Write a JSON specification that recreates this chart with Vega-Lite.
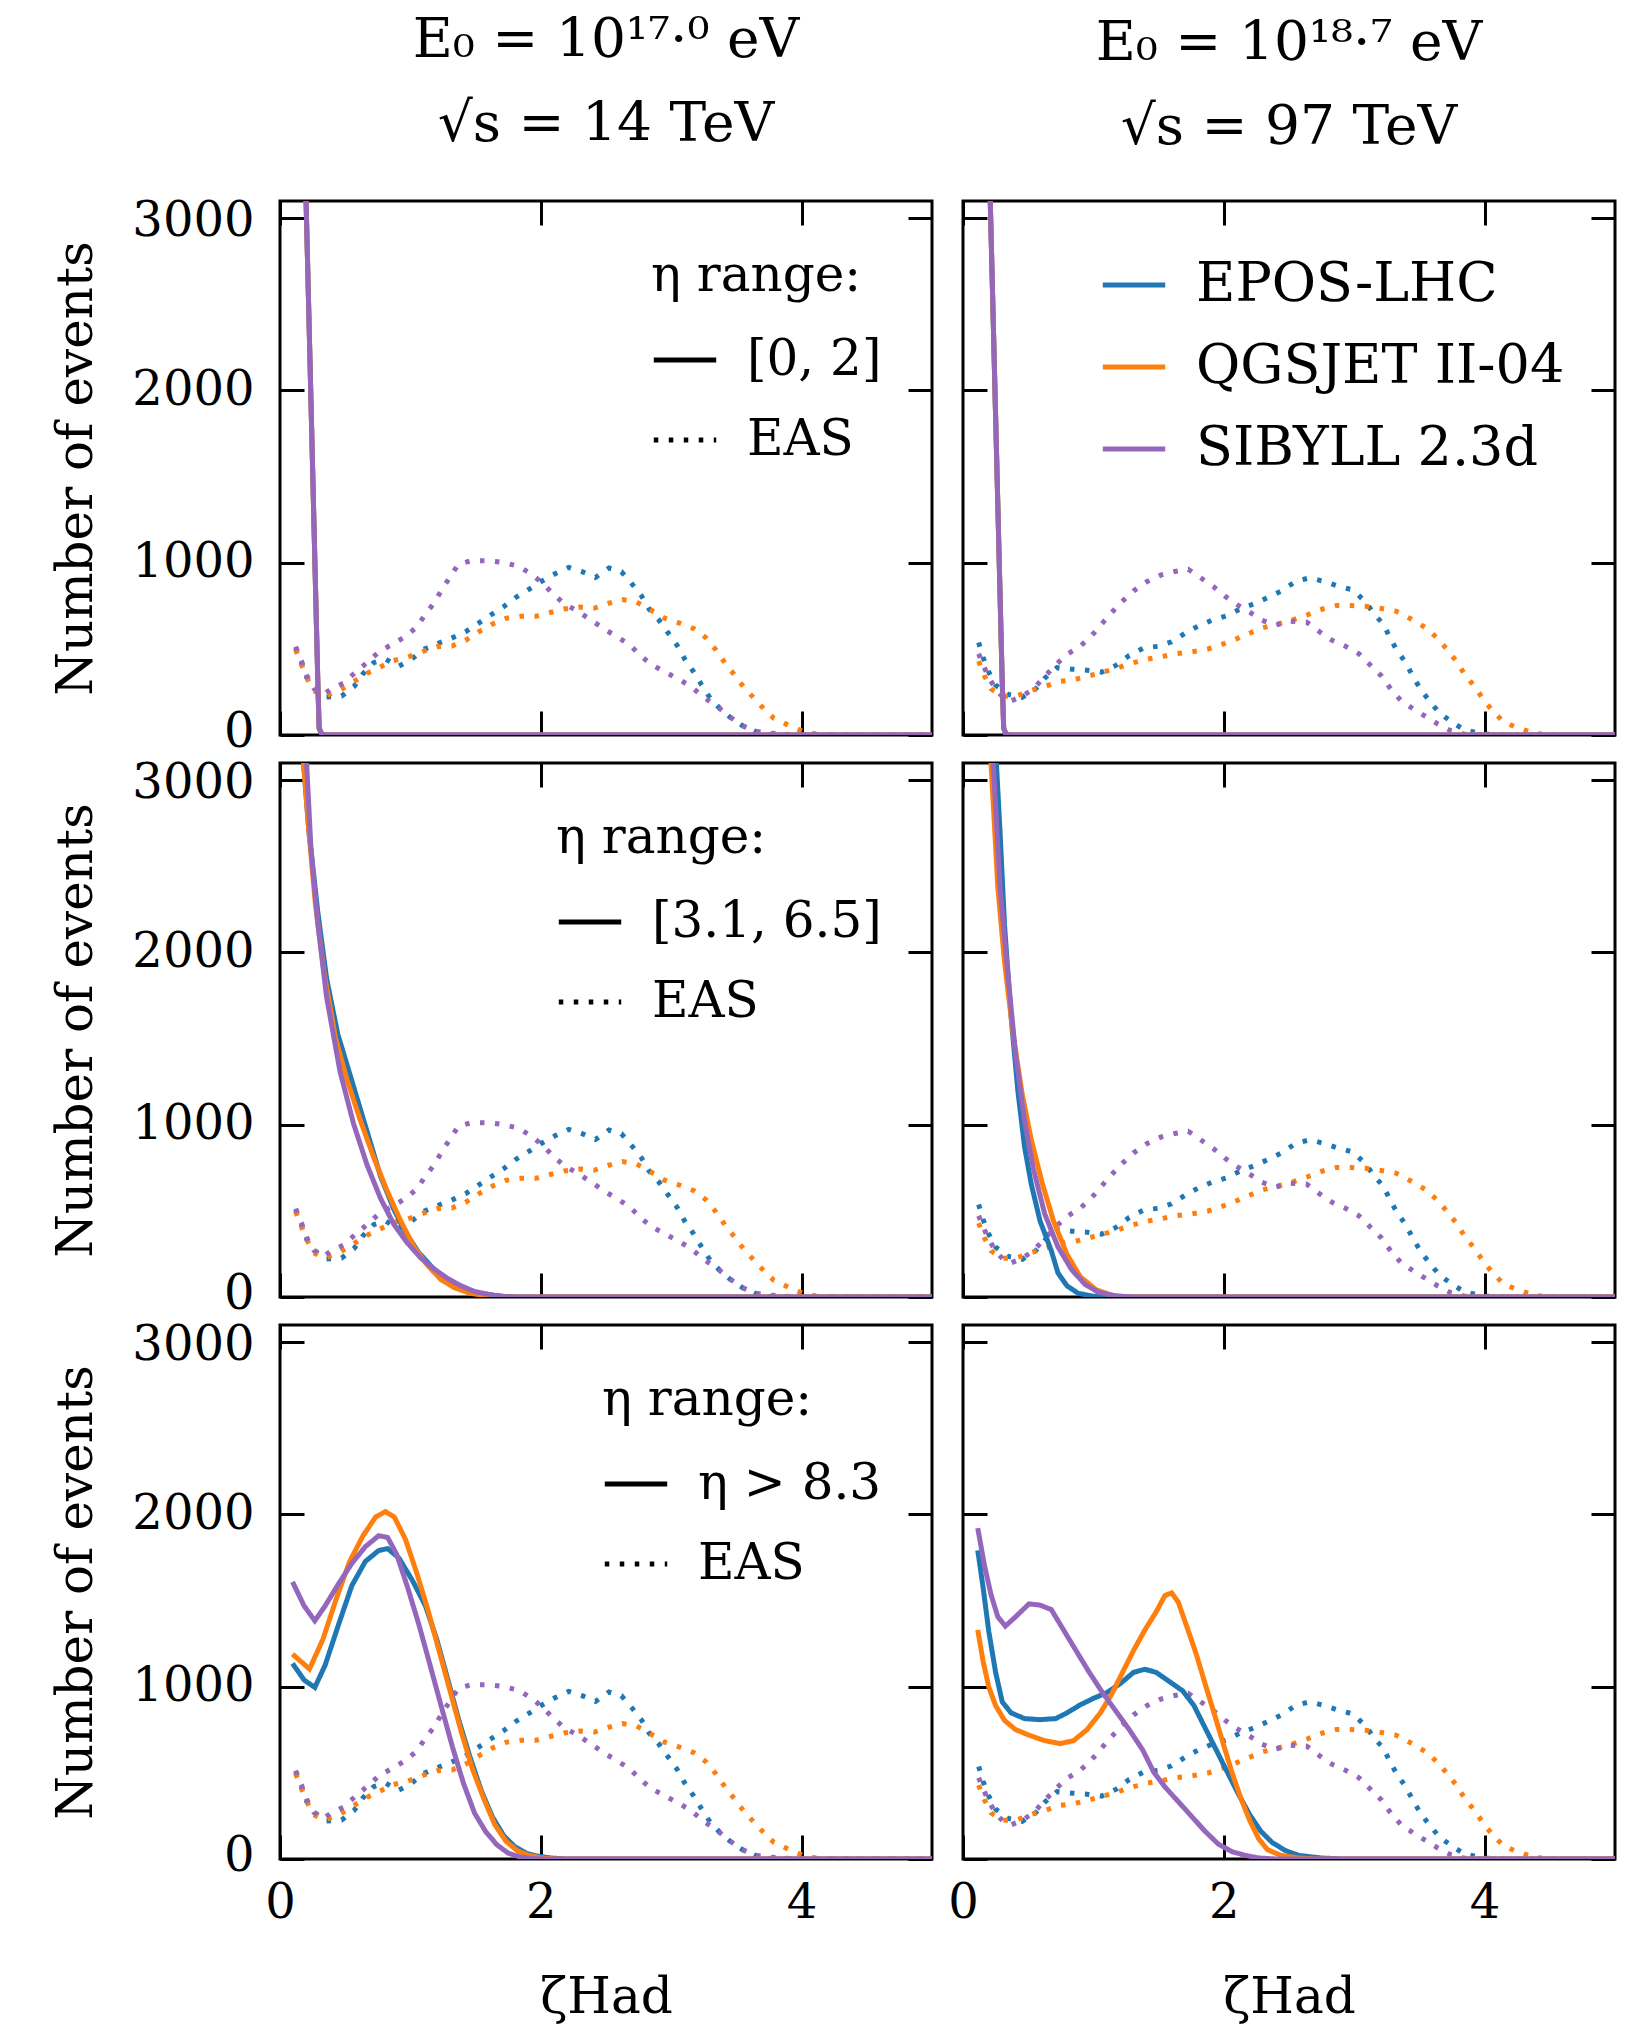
{
"$schema":"https://vega.github.io/schema/vega-lite/v6.json",
"background":"white",
"padding":{"left":50,"top":11,"right":20,"bottom":5},
"config":{
 "font":"DejaVu Serif",
 "numberFormat":"d",
 "view":{"stroke":"black","strokeWidth":3},
 "axis":{"grid":false,"domain":false,"ticks":true,"minExtent":0,"tickColor":"black","tickWidth":3,"tickSize":-24,"labelFontSize":48,"labelColor":"black","labelPadding":50,"labelFlush":false,"labelOverlap":false,"titleFontSize":50,"titleFontWeight":"normal","titleColor":"black"},
 "axisX":{"titlePadding":45,"labelPadding":44,"minExtent":0},
 "axisY":{"titlePadding":30,"minExtent":0},
 "legend":{"padding":0,"offset":50,"symbolType":"stroke","symbolStrokeWidth":5,"symbolSize":3900,"labelFontSize":50,"labelColor":"black","titleFontSize":50,"titleFontWeight":"normal","titleColor":"black","rowPadding":21,"titlePadding":25,"labelOffset":28,"labelLimit":700,"titleLimit":700},
 "title":{"fontSize":55,"fontWeight":"normal","color":"black","lineHeight":84,"offset":44,"anchor":"middle","frame":"group"},
 "line":{"strokeWidth":5,"clip":true}
},
"datasets":{
"eas":[
{"c":"L","m":"EPOS-LHC","x":0.12,"y":506},{"c":"L","m":"EPOS-LHC","x":0.164,"y":420},{"c":"L","m":"EPOS-LHC","x":0.205,"y":334},{"c":"L","m":"EPOS-LHC","x":0.267,"y":269},{"c":"L","m":"EPOS-LHC","x":0.352,"y":220},{"c":"L","m":"EPOS-LHC","x":0.472,"y":226},{"c":"L","m":"EPOS-LHC","x":0.567,"y":280},{"c":"L","m":"EPOS-LHC","x":0.636,"y":355},{"c":"L","m":"EPOS-LHC","x":0.718,"y":420},{"c":"L","m":"EPOS-LHC","x":0.807,"y":442},{"c":"L","m":"EPOS-LHC","x":0.906,"y":398},{"c":"L","m":"EPOS-LHC","x":1.001,"y":435},{"c":"L","m":"EPOS-LHC","x":1.097,"y":495},{"c":"L","m":"EPOS-LHC","x":1.2,"y":528},{"c":"L","m":"EPOS-LHC","x":1.309,"y":560},{"c":"L","m":"EPOS-LHC","x":1.422,"y":599},{"c":"L","m":"EPOS-LHC","x":1.517,"y":646},{"c":"L","m":"EPOS-LHC","x":1.61,"y":694},{"c":"L","m":"EPOS-LHC","x":1.712,"y":743},{"c":"L","m":"EPOS-LHC","x":1.805,"y":797},{"c":"L","m":"EPOS-LHC","x":1.897,"y":840},{"c":"L","m":"EPOS-LHC","x":2.01,"y":894},{"c":"L","m":"EPOS-LHC","x":2.112,"y":937},{"c":"L","m":"EPOS-LHC","x":2.215,"y":973},{"c":"L","m":"EPOS-LHC","x":2.317,"y":948},{"c":"L","m":"EPOS-LHC","x":2.42,"y":915},{"c":"L","m":"EPOS-LHC","x":2.522,"y":969},{"c":"L","m":"EPOS-LHC","x":2.618,"y":948},{"c":"L","m":"EPOS-LHC","x":2.693,"y":883},{"c":"L","m":"EPOS-LHC","x":2.772,"y":808},{"c":"L","m":"EPOS-LHC","x":2.83,"y":732},{"c":"L","m":"EPOS-LHC","x":2.905,"y":668},{"c":"L","m":"EPOS-LHC","x":2.977,"y":592},{"c":"L","m":"EPOS-LHC","x":3.045,"y":521},{"c":"L","m":"EPOS-LHC","x":3.103,"y":442},{"c":"L","m":"EPOS-LHC","x":3.172,"y":366},{"c":"L","m":"EPOS-LHC","x":3.233,"y":291},{"c":"L","m":"EPOS-LHC","x":3.298,"y":215},{"c":"L","m":"EPOS-LHC","x":3.377,"y":151},{"c":"L","m":"EPOS-LHC","x":3.462,"y":97},{"c":"L","m":"EPOS-LHC","x":3.547,"y":54},{"c":"L","m":"EPOS-LHC","x":3.643,"y":22},{"c":"L","m":"EPOS-LHC","x":3.75,"y":4},{"c":"L","m":"EPOS-LHC","x":3.9,"y":0},{"c":"L","m":"EPOS-LHC","x":5,"y":0},
{"c":"L","m":"QGSJET II-04","x":0.12,"y":495},{"c":"L","m":"QGSJET II-04","x":0.164,"y":409},{"c":"L","m":"QGSJET II-04","x":0.205,"y":334},{"c":"L","m":"QGSJET II-04","x":0.256,"y":258},{"c":"L","m":"QGSJET II-04","x":0.342,"y":226},{"c":"L","m":"QGSJET II-04","x":0.455,"y":258},{"c":"L","m":"QGSJET II-04","x":0.557,"y":306},{"c":"L","m":"QGSJET II-04","x":0.66,"y":355},{"c":"L","m":"QGSJET II-04","x":0.762,"y":392},{"c":"L","m":"QGSJET II-04","x":0.865,"y":431},{"c":"L","m":"QGSJET II-04","x":0.977,"y":452},{"c":"L","m":"QGSJET II-04","x":1.097,"y":485},{"c":"L","m":"QGSJET II-04","x":1.206,"y":513},{"c":"L","m":"QGSJET II-04","x":1.319,"y":517},{"c":"L","m":"QGSJET II-04","x":1.422,"y":549},{"c":"L","m":"QGSJET II-04","x":1.524,"y":599},{"c":"L","m":"QGSJET II-04","x":1.634,"y":646},{"c":"L","m":"QGSJET II-04","x":1.736,"y":678},{"c":"L","m":"QGSJET II-04","x":1.849,"y":689},{"c":"L","m":"QGSJET II-04","x":1.962,"y":689},{"c":"L","m":"QGSJET II-04","x":2.071,"y":711},{"c":"L","m":"QGSJET II-04","x":2.18,"y":732},{"c":"L","m":"QGSJET II-04","x":2.3,"y":743},{"c":"L","m":"QGSJET II-04","x":2.413,"y":737},{"c":"L","m":"QGSJET II-04","x":2.522,"y":765},{"c":"L","m":"QGSJET II-04","x":2.625,"y":786},{"c":"L","m":"QGSJET II-04","x":2.727,"y":775},{"c":"L","m":"QGSJET II-04","x":2.83,"y":732},{"c":"L","m":"QGSJET II-04","x":2.949,"y":678},{"c":"L","m":"QGSJET II-04","x":3.062,"y":650},{"c":"L","m":"QGSJET II-04","x":3.172,"y":618},{"c":"L","m":"QGSJET II-04","x":3.267,"y":564},{"c":"L","m":"QGSJET II-04","x":3.342,"y":495},{"c":"L","m":"QGSJET II-04","x":3.411,"y":420},{"c":"L","m":"QGSJET II-04","x":3.479,"y":355},{"c":"L","m":"QGSJET II-04","x":3.554,"y":280},{"c":"L","m":"QGSJET II-04","x":3.633,"y":215},{"c":"L","m":"QGSJET II-04","x":3.712,"y":151},{"c":"L","m":"QGSJET II-04","x":3.787,"y":97},{"c":"L","m":"QGSJET II-04","x":3.906,"y":54},{"c":"L","m":"QGSJET II-04","x":4.009,"y":22},{"c":"L","m":"QGSJET II-04","x":4.111,"y":6},{"c":"L","m":"QGSJET II-04","x":4.23,"y":0},{"c":"L","m":"QGSJET II-04","x":5,"y":0},
{"c":"L","m":"SIBYLL 2.3d","x":0.12,"y":513},{"c":"L","m":"SIBYLL 2.3d","x":0.164,"y":431},{"c":"L","m":"SIBYLL 2.3d","x":0.205,"y":345},{"c":"L","m":"SIBYLL 2.3d","x":0.26,"y":270},{"c":"L","m":"SIBYLL 2.3d","x":0.335,"y":237},{"c":"L","m":"SIBYLL 2.3d","x":0.396,"y":269},{"c":"L","m":"SIBYLL 2.3d","x":0.489,"y":302},{"c":"L","m":"SIBYLL 2.3d","x":0.581,"y":366},{"c":"L","m":"SIBYLL 2.3d","x":0.684,"y":431},{"c":"L","m":"SIBYLL 2.3d","x":0.762,"y":485},{"c":"L","m":"SIBYLL 2.3d","x":0.865,"y":528},{"c":"L","m":"SIBYLL 2.3d","x":0.96,"y":571},{"c":"L","m":"SIBYLL 2.3d","x":1.046,"y":625},{"c":"L","m":"SIBYLL 2.3d","x":1.114,"y":700},{"c":"L","m":"SIBYLL 2.3d","x":1.18,"y":765},{"c":"L","m":"SIBYLL 2.3d","x":1.247,"y":851},{"c":"L","m":"SIBYLL 2.3d","x":1.312,"y":926},{"c":"L","m":"SIBYLL 2.3d","x":1.367,"y":991},{"c":"L","m":"SIBYLL 2.3d","x":1.47,"y":1012},{"c":"L","m":"SIBYLL 2.3d","x":1.6,"y":1012},{"c":"L","m":"SIBYLL 2.3d","x":1.709,"y":1002},{"c":"L","m":"SIBYLL 2.3d","x":1.825,"y":980},{"c":"L","m":"SIBYLL 2.3d","x":1.924,"y":937},{"c":"L","m":"SIBYLL 2.3d","x":2.01,"y":883},{"c":"L","m":"SIBYLL 2.3d","x":2.088,"y":823},{"c":"L","m":"SIBYLL 2.3d","x":2.174,"y":765},{"c":"L","m":"SIBYLL 2.3d","x":2.29,"y":715},{"c":"L","m":"SIBYLL 2.3d","x":2.385,"y":668},{"c":"L","m":"SIBYLL 2.3d","x":2.488,"y":614},{"c":"L","m":"SIBYLL 2.3d","x":2.584,"y":571},{"c":"L","m":"SIBYLL 2.3d","x":2.686,"y":521},{"c":"L","m":"SIBYLL 2.3d","x":2.761,"y":463},{"c":"L","m":"SIBYLL 2.3d","x":2.847,"y":409},{"c":"L","m":"SIBYLL 2.3d","x":2.953,"y":366},{"c":"L","m":"SIBYLL 2.3d","x":3.059,"y":323},{"c":"L","m":"SIBYLL 2.3d","x":3.154,"y":280},{"c":"L","m":"SIBYLL 2.3d","x":3.247,"y":220},{"c":"L","m":"SIBYLL 2.3d","x":3.349,"y":168},{"c":"L","m":"SIBYLL 2.3d","x":3.445,"y":108},{"c":"L","m":"SIBYLL 2.3d","x":3.547,"y":54},{"c":"L","m":"SIBYLL 2.3d","x":3.643,"y":22},{"c":"L","m":"SIBYLL 2.3d","x":3.75,"y":11},{"c":"L","m":"SIBYLL 2.3d","x":3.87,"y":4},{"c":"L","m":"SIBYLL 2.3d","x":4.0,"y":0},{"c":"L","m":"SIBYLL 2.3d","x":5,"y":0},
{"c":"R","m":"EPOS-LHC","x":0.12,"y":537},{"c":"R","m":"EPOS-LHC","x":0.154,"y":451},{"c":"R","m":"EPOS-LHC","x":0.198,"y":365},{"c":"R","m":"EPOS-LHC","x":0.25,"y":290},{"c":"R","m":"EPOS-LHC","x":0.345,"y":236},{"c":"R","m":"EPOS-LHC","x":0.455,"y":219},{"c":"R","m":"EPOS-LHC","x":0.557,"y":268},{"c":"R","m":"EPOS-LHC","x":0.632,"y":333},{"c":"R","m":"EPOS-LHC","x":0.721,"y":391},{"c":"R","m":"EPOS-LHC","x":0.838,"y":382},{"c":"R","m":"EPOS-LHC","x":0.95,"y":376},{"c":"R","m":"EPOS-LHC","x":1.063,"y":365},{"c":"R","m":"EPOS-LHC","x":1.173,"y":404},{"c":"R","m":"EPOS-LHC","x":1.275,"y":462},{"c":"R","m":"EPOS-LHC","x":1.385,"y":505},{"c":"R","m":"EPOS-LHC","x":1.497,"y":515},{"c":"R","m":"EPOS-LHC","x":1.6,"y":541},{"c":"R","m":"EPOS-LHC","x":1.703,"y":591},{"c":"R","m":"EPOS-LHC","x":1.805,"y":633},{"c":"R","m":"EPOS-LHC","x":1.908,"y":666},{"c":"R","m":"EPOS-LHC","x":2.017,"y":691},{"c":"R","m":"EPOS-LHC","x":2.123,"y":730},{"c":"R","m":"EPOS-LHC","x":2.232,"y":762},{"c":"R","m":"EPOS-LHC","x":2.342,"y":799},{"c":"R","m":"EPOS-LHC","x":2.444,"y":837},{"c":"R","m":"EPOS-LHC","x":2.55,"y":891},{"c":"R","m":"EPOS-LHC","x":2.66,"y":913},{"c":"R","m":"EPOS-LHC","x":2.769,"y":891},{"c":"R","m":"EPOS-LHC","x":2.882,"y":863},{"c":"R","m":"EPOS-LHC","x":2.991,"y":842},{"c":"R","m":"EPOS-LHC","x":3.087,"y":773},{"c":"R","m":"EPOS-LHC","x":3.156,"y":698},{"c":"R","m":"EPOS-LHC","x":3.224,"y":644},{"c":"R","m":"EPOS-LHC","x":3.275,"y":563},{"c":"R","m":"EPOS-LHC","x":3.326,"y":494},{"c":"R","m":"EPOS-LHC","x":3.395,"y":419},{"c":"R","m":"EPOS-LHC","x":3.456,"y":333},{"c":"R","m":"EPOS-LHC","x":3.515,"y":258},{"c":"R","m":"EPOS-LHC","x":3.583,"y":193},{"c":"R","m":"EPOS-LHC","x":3.651,"y":129},{"c":"R","m":"EPOS-LHC","x":3.737,"y":82},{"c":"R","m":"EPOS-LHC","x":3.839,"y":32},{"c":"R","m":"EPOS-LHC","x":3.976,"y":6},{"c":"R","m":"EPOS-LHC","x":4.147,"y":0},{"c":"R","m":"EPOS-LHC","x":5,"y":0},
{"c":"R","m":"QGSJET II-04","x":0.12,"y":429},{"c":"R","m":"QGSJET II-04","x":0.164,"y":344},{"c":"R","m":"QGSJET II-04","x":0.215,"y":268},{"c":"R","m":"QGSJET II-04","x":0.301,"y":225},{"c":"R","m":"QGSJET II-04","x":0.403,"y":225},{"c":"R","m":"QGSJET II-04","x":0.523,"y":258},{"c":"R","m":"QGSJET II-04","x":0.632,"y":283},{"c":"R","m":"QGSJET II-04","x":0.745,"y":311},{"c":"R","m":"QGSJET II-04","x":0.858,"y":322},{"c":"R","m":"QGSJET II-04","x":0.968,"y":344},{"c":"R","m":"QGSJET II-04","x":1.077,"y":365},{"c":"R","m":"QGSJET II-04","x":1.19,"y":391},{"c":"R","m":"QGSJET II-04","x":1.303,"y":419},{"c":"R","m":"QGSJET II-04","x":1.412,"y":440},{"c":"R","m":"QGSJET II-04","x":1.521,"y":455},{"c":"R","m":"QGSJET II-04","x":1.634,"y":472},{"c":"R","m":"QGSJET II-04","x":1.754,"y":483},{"c":"R","m":"QGSJET II-04","x":1.874,"y":498},{"c":"R","m":"QGSJET II-04","x":1.986,"y":526},{"c":"R","m":"QGSJET II-04","x":2.096,"y":558},{"c":"R","m":"QGSJET II-04","x":2.198,"y":591},{"c":"R","m":"QGSJET II-04","x":2.301,"y":623},{"c":"R","m":"QGSJET II-04","x":2.41,"y":644},{"c":"R","m":"QGSJET II-04","x":2.523,"y":666},{"c":"R","m":"QGSJET II-04","x":2.643,"y":698},{"c":"R","m":"QGSJET II-04","x":2.752,"y":730},{"c":"R","m":"QGSJET II-04","x":2.865,"y":752},{"c":"R","m":"QGSJET II-04","x":2.978,"y":752},{"c":"R","m":"QGSJET II-04","x":3.087,"y":747},{"c":"R","m":"QGSJET II-04","x":3.207,"y":734},{"c":"R","m":"QGSJET II-04","x":3.32,"y":719},{"c":"R","m":"QGSJET II-04","x":3.429,"y":676},{"c":"R","m":"QGSJET II-04","x":3.549,"y":623},{"c":"R","m":"QGSJET II-04","x":3.627,"y":569},{"c":"R","m":"QGSJET II-04","x":3.703,"y":505},{"c":"R","m":"QGSJET II-04","x":3.778,"y":434},{"c":"R","m":"QGSJET II-04","x":3.846,"y":354},{"c":"R","m":"QGSJET II-04","x":3.925,"y":279},{"c":"R","m":"QGSJET II-04","x":3.993,"y":204},{"c":"R","m":"QGSJET II-04","x":4.062,"y":140},{"c":"R","m":"QGSJET II-04","x":4.147,"y":75},{"c":"R","m":"QGSJET II-04","x":4.25,"y":43},{"c":"R","m":"QGSJET II-04","x":4.352,"y":17},{"c":"R","m":"QGSJET II-04","x":4.472,"y":0},{"c":"R","m":"QGSJET II-04","x":5,"y":0},
{"c":"R","m":"SIBYLL 2.3d","x":0.12,"y":472},{"c":"R","m":"SIBYLL 2.3d","x":0.154,"y":408},{"c":"R","m":"SIBYLL 2.3d","x":0.198,"y":333},{"c":"R","m":"SIBYLL 2.3d","x":0.25,"y":268},{"c":"R","m":"SIBYLL 2.3d","x":0.311,"y":215},{"c":"R","m":"SIBYLL 2.3d","x":0.369,"y":198},{"c":"R","m":"SIBYLL 2.3d","x":0.455,"y":225},{"c":"R","m":"SIBYLL 2.3d","x":0.54,"y":268},{"c":"R","m":"SIBYLL 2.3d","x":0.632,"y":344},{"c":"R","m":"SIBYLL 2.3d","x":0.711,"y":408},{"c":"R","m":"SIBYLL 2.3d","x":0.807,"y":472},{"c":"R","m":"SIBYLL 2.3d","x":0.899,"y":515},{"c":"R","m":"SIBYLL 2.3d","x":0.985,"y":575},{"c":"R","m":"SIBYLL 2.3d","x":1.063,"y":644},{"c":"R","m":"SIBYLL 2.3d","x":1.138,"y":709},{"c":"R","m":"SIBYLL 2.3d","x":1.217,"y":773},{"c":"R","m":"SIBYLL 2.3d","x":1.309,"y":837},{"c":"R","m":"SIBYLL 2.3d","x":1.412,"y":891},{"c":"R","m":"SIBYLL 2.3d","x":1.515,"y":928},{"c":"R","m":"SIBYLL 2.3d","x":1.624,"y":949},{"c":"R","m":"SIBYLL 2.3d","x":1.727,"y":962},{"c":"R","m":"SIBYLL 2.3d","x":1.822,"y":913},{"c":"R","m":"SIBYLL 2.3d","x":1.918,"y":863},{"c":"R","m":"SIBYLL 2.3d","x":2.01,"y":805},{"c":"R","m":"SIBYLL 2.3d","x":2.103,"y":756},{"c":"R","m":"SIBYLL 2.3d","x":2.198,"y":713},{"c":"R","m":"SIBYLL 2.3d","x":2.294,"y":666},{"c":"R","m":"SIBYLL 2.3d","x":2.397,"y":638},{"c":"R","m":"SIBYLL 2.3d","x":2.513,"y":661},{"c":"R","m":"SIBYLL 2.3d","x":2.636,"y":655},{"c":"R","m":"SIBYLL 2.3d","x":2.738,"y":597},{"c":"R","m":"SIBYLL 2.3d","x":2.834,"y":548},{"c":"R","m":"SIBYLL 2.3d","x":2.933,"y":515},{"c":"R","m":"SIBYLL 2.3d","x":3.036,"y":472},{"c":"R","m":"SIBYLL 2.3d","x":3.121,"y":408},{"c":"R","m":"SIBYLL 2.3d","x":3.207,"y":344},{"c":"R","m":"SIBYLL 2.3d","x":3.285,"y":262},{"c":"R","m":"SIBYLL 2.3d","x":3.361,"y":198},{"c":"R","m":"SIBYLL 2.3d","x":3.456,"y":150},{"c":"R","m":"SIBYLL 2.3d","x":3.549,"y":107},{"c":"R","m":"SIBYLL 2.3d","x":3.641,"y":64},{"c":"R","m":"SIBYLL 2.3d","x":3.737,"y":26},{"c":"R","m":"SIBYLL 2.3d","x":3.839,"y":6},{"c":"R","m":"SIBYLL 2.3d","x":3.942,"y":0},{"c":"R","m":"SIBYLL 2.3d","x":5,"y":0}
],
"solid":[
{"c":"L","r":1,"m":"EPOS-LHC","x":0.1,"y":6200},{"c":"L","r":1,"m":"EPOS-LHC","x":0.15,"y":4650},{"c":"L","r":1,"m":"EPOS-LHC","x":0.2,"y":3100},{"c":"L","r":1,"m":"EPOS-LHC","x":0.25,"y":1550},{"c":"L","r":1,"m":"EPOS-LHC","x":0.29,"y":310},{"c":"L","r":1,"m":"EPOS-LHC","x":0.3,"y":40},{"c":"L","r":1,"m":"EPOS-LHC","x":0.32,"y":5},{"c":"L","r":1,"m":"EPOS-LHC","x":0.36,"y":0},{"c":"L","r":1,"m":"EPOS-LHC","x":5,"y":0},
{"c":"L","r":1,"m":"QGSJET II-04","x":0.1,"y":6200},{"c":"L","r":1,"m":"QGSJET II-04","x":0.15,"y":4650},{"c":"L","r":1,"m":"QGSJET II-04","x":0.2,"y":3100},{"c":"L","r":1,"m":"QGSJET II-04","x":0.25,"y":1550},{"c":"L","r":1,"m":"QGSJET II-04","x":0.29,"y":310},{"c":"L","r":1,"m":"QGSJET II-04","x":0.3,"y":40},{"c":"L","r":1,"m":"QGSJET II-04","x":0.32,"y":5},{"c":"L","r":1,"m":"QGSJET II-04","x":0.36,"y":0},{"c":"L","r":1,"m":"QGSJET II-04","x":5,"y":0},
{"c":"L","r":1,"m":"SIBYLL 2.3d","x":0.1,"y":6200},{"c":"L","r":1,"m":"SIBYLL 2.3d","x":0.15,"y":4650},{"c":"L","r":1,"m":"SIBYLL 2.3d","x":0.2,"y":3100},{"c":"L","r":1,"m":"SIBYLL 2.3d","x":0.25,"y":1550},{"c":"L","r":1,"m":"SIBYLL 2.3d","x":0.29,"y":310},{"c":"L","r":1,"m":"SIBYLL 2.3d","x":0.3,"y":40},{"c":"L","r":1,"m":"SIBYLL 2.3d","x":0.32,"y":5},{"c":"L","r":1,"m":"SIBYLL 2.3d","x":0.36,"y":0},{"c":"L","r":1,"m":"SIBYLL 2.3d","x":5,"y":0},
{"c":"R","r":1,"m":"EPOS-LHC","x":0.1,"y":6500},{"c":"R","r":1,"m":"EPOS-LHC","x":0.15,"y":4900},{"c":"R","r":1,"m":"EPOS-LHC","x":0.209,"y":3100},{"c":"R","r":1,"m":"EPOS-LHC","x":0.26,"y":1550},{"c":"R","r":1,"m":"EPOS-LHC","x":0.3,"y":330},{"c":"R","r":1,"m":"EPOS-LHC","x":0.312,"y":40},{"c":"R","r":1,"m":"EPOS-LHC","x":0.33,"y":5},{"c":"R","r":1,"m":"EPOS-LHC","x":0.37,"y":0},{"c":"R","r":1,"m":"EPOS-LHC","x":5,"y":0},
{"c":"R","r":1,"m":"QGSJET II-04","x":0.1,"y":6500},{"c":"R","r":1,"m":"QGSJET II-04","x":0.15,"y":4900},{"c":"R","r":1,"m":"QGSJET II-04","x":0.209,"y":3100},{"c":"R","r":1,"m":"QGSJET II-04","x":0.26,"y":1550},{"c":"R","r":1,"m":"QGSJET II-04","x":0.3,"y":330},{"c":"R","r":1,"m":"QGSJET II-04","x":0.312,"y":40},{"c":"R","r":1,"m":"QGSJET II-04","x":0.33,"y":5},{"c":"R","r":1,"m":"QGSJET II-04","x":0.37,"y":0},{"c":"R","r":1,"m":"QGSJET II-04","x":5,"y":0},
{"c":"R","r":1,"m":"SIBYLL 2.3d","x":0.1,"y":6500},{"c":"R","r":1,"m":"SIBYLL 2.3d","x":0.15,"y":4900},{"c":"R","r":1,"m":"SIBYLL 2.3d","x":0.209,"y":3100},{"c":"R","r":1,"m":"SIBYLL 2.3d","x":0.26,"y":1550},{"c":"R","r":1,"m":"SIBYLL 2.3d","x":0.3,"y":330},{"c":"R","r":1,"m":"SIBYLL 2.3d","x":0.312,"y":40},{"c":"R","r":1,"m":"SIBYLL 2.3d","x":0.33,"y":5},{"c":"R","r":1,"m":"SIBYLL 2.3d","x":0.37,"y":0},{"c":"R","r":1,"m":"SIBYLL 2.3d","x":5,"y":0},
{"c":"L","r":2,"m":"EPOS-LHC","x":0.1,"y":4500},{"c":"L","r":2,"m":"EPOS-LHC","x":0.14,"y":3700},{"c":"L","r":2,"m":"EPOS-LHC","x":0.179,"y":3117},{"c":"L","r":2,"m":"EPOS-LHC","x":0.22,"y":2716},{"c":"L","r":2,"m":"EPOS-LHC","x":0.289,"y":2240},{"c":"L","r":2,"m":"EPOS-LHC","x":0.357,"y":1851},{"c":"L","r":2,"m":"EPOS-LHC","x":0.443,"y":1526},{"c":"L","r":2,"m":"EPOS-LHC","x":0.512,"y":1353},{"c":"L","r":2,"m":"EPOS-LHC","x":0.598,"y":1136},{"c":"L","r":2,"m":"EPOS-LHC","x":0.684,"y":920},{"c":"L","r":2,"m":"EPOS-LHC","x":0.77,"y":703},{"c":"L","r":2,"m":"EPOS-LHC","x":0.873,"y":509},{"c":"L","r":2,"m":"EPOS-LHC","x":0.959,"y":379},{"c":"L","r":2,"m":"EPOS-LHC","x":1.062,"y":260},{"c":"L","r":2,"m":"EPOS-LHC","x":1.165,"y":173},{"c":"L","r":2,"m":"EPOS-LHC","x":1.268,"y":108},{"c":"L","r":2,"m":"EPOS-LHC","x":1.388,"y":54},{"c":"L","r":2,"m":"EPOS-LHC","x":1.526,"y":22},{"c":"L","r":2,"m":"EPOS-LHC","x":1.698,"y":4},{"c":"L","r":2,"m":"EPOS-LHC","x":1.85,"y":0},{"c":"L","r":2,"m":"EPOS-LHC","x":5,"y":0},
{"c":"L","r":2,"m":"QGSJET II-04","x":0.1,"y":4500},{"c":"L","r":2,"m":"QGSJET II-04","x":0.14,"y":3700},{"c":"L","r":2,"m":"QGSJET II-04","x":0.179,"y":3117},{"c":"L","r":2,"m":"QGSJET II-04","x":0.22,"y":2716},{"c":"L","r":2,"m":"QGSJET II-04","x":0.271,"y":2284},{"c":"L","r":2,"m":"QGSJET II-04","x":0.34,"y":1872},{"c":"L","r":2,"m":"QGSJET II-04","x":0.426,"y":1504},{"c":"L","r":2,"m":"QGSJET II-04","x":0.512,"y":1266},{"c":"L","r":2,"m":"QGSJET II-04","x":0.615,"y":1028},{"c":"L","r":2,"m":"QGSJET II-04","x":0.718,"y":812},{"c":"L","r":2,"m":"QGSJET II-04","x":0.821,"y":617},{"c":"L","r":2,"m":"QGSJET II-04","x":0.924,"y":444},{"c":"L","r":2,"m":"QGSJET II-04","x":1.027,"y":292},{"c":"L","r":2,"m":"QGSJET II-04","x":1.131,"y":184},{"c":"L","r":2,"m":"QGSJET II-04","x":1.234,"y":102},{"c":"L","r":2,"m":"QGSJET II-04","x":1.337,"y":54},{"c":"L","r":2,"m":"QGSJET II-04","x":1.457,"y":22},{"c":"L","r":2,"m":"QGSJET II-04","x":1.595,"y":6},{"c":"L","r":2,"m":"QGSJET II-04","x":1.732,"y":0},{"c":"L","r":2,"m":"QGSJET II-04","x":5,"y":0},
{"c":"L","r":2,"m":"SIBYLL 2.3d","x":0.1,"y":4800},{"c":"L","r":2,"m":"SIBYLL 2.3d","x":0.15,"y":3900},{"c":"L","r":2,"m":"SIBYLL 2.3d","x":0.203,"y":3117},{"c":"L","r":2,"m":"SIBYLL 2.3d","x":0.237,"y":2608},{"c":"L","r":2,"m":"SIBYLL 2.3d","x":0.289,"y":2175},{"c":"L","r":2,"m":"SIBYLL 2.3d","x":0.357,"y":1742},{"c":"L","r":2,"m":"SIBYLL 2.3d","x":0.46,"y":1310},{"c":"L","r":2,"m":"SIBYLL 2.3d","x":0.564,"y":1006},{"c":"L","r":2,"m":"SIBYLL 2.3d","x":0.667,"y":768},{"c":"L","r":2,"m":"SIBYLL 2.3d","x":0.77,"y":574},{"c":"L","r":2,"m":"SIBYLL 2.3d","x":0.873,"y":422},{"c":"L","r":2,"m":"SIBYLL 2.3d","x":0.976,"y":314},{"c":"L","r":2,"m":"SIBYLL 2.3d","x":1.079,"y":227},{"c":"L","r":2,"m":"SIBYLL 2.3d","x":1.182,"y":162},{"c":"L","r":2,"m":"SIBYLL 2.3d","x":1.285,"y":108},{"c":"L","r":2,"m":"SIBYLL 2.3d","x":1.388,"y":65},{"c":"L","r":2,"m":"SIBYLL 2.3d","x":1.491,"y":32},{"c":"L","r":2,"m":"SIBYLL 2.3d","x":1.629,"y":11},{"c":"L","r":2,"m":"SIBYLL 2.3d","x":1.76,"y":0},{"c":"L","r":2,"m":"SIBYLL 2.3d","x":5,"y":0},
{"c":"R","r":2,"m":"EPOS-LHC","x":0.1,"y":6500},{"c":"R","r":2,"m":"EPOS-LHC","x":0.2,"y":4300},{"c":"R","r":2,"m":"EPOS-LHC","x":0.256,"y":3100},{"c":"R","r":2,"m":"EPOS-LHC","x":0.284,"y":2701},{"c":"R","r":2,"m":"EPOS-LHC","x":0.318,"y":2164},{"c":"R","r":2,"m":"EPOS-LHC","x":0.369,"y":1625},{"c":"R","r":2,"m":"EPOS-LHC","x":0.421,"y":1195},{"c":"R","r":2,"m":"EPOS-LHC","x":0.472,"y":872},{"c":"R","r":2,"m":"EPOS-LHC","x":0.523,"y":657},{"c":"R","r":2,"m":"EPOS-LHC","x":0.591,"y":441},{"c":"R","r":2,"m":"EPOS-LHC","x":0.677,"y":269},{"c":"R","r":2,"m":"EPOS-LHC","x":0.728,"y":140},{"c":"R","r":2,"m":"EPOS-LHC","x":0.797,"y":65},{"c":"R","r":2,"m":"EPOS-LHC","x":0.882,"y":22},{"c":"R","r":2,"m":"EPOS-LHC","x":1.0,"y":4},{"c":"R","r":2,"m":"EPOS-LHC","x":1.1,"y":0},{"c":"R","r":2,"m":"EPOS-LHC","x":5,"y":0},
{"c":"R","r":2,"m":"QGSJET II-04","x":0.1,"y":5500},{"c":"R","r":2,"m":"QGSJET II-04","x":0.16,"y":4300},{"c":"R","r":2,"m":"QGSJET II-04","x":0.215,"y":3100},{"c":"R","r":2,"m":"QGSJET II-04","x":0.267,"y":2379},{"c":"R","r":2,"m":"QGSJET II-04","x":0.318,"y":1948},{"c":"R","r":2,"m":"QGSJET II-04","x":0.386,"y":1518},{"c":"R","r":2,"m":"QGSJET II-04","x":0.455,"y":1173},{"c":"R","r":2,"m":"QGSJET II-04","x":0.523,"y":915},{"c":"R","r":2,"m":"QGSJET II-04","x":0.609,"y":657},{"c":"R","r":2,"m":"QGSJET II-04","x":0.694,"y":441},{"c":"R","r":2,"m":"QGSJET II-04","x":0.797,"y":248},{"c":"R","r":2,"m":"QGSJET II-04","x":0.899,"y":118},{"c":"R","r":2,"m":"QGSJET II-04","x":1.019,"y":43},{"c":"R","r":2,"m":"QGSJET II-04","x":1.138,"y":11},{"c":"R","r":2,"m":"QGSJET II-04","x":1.25,"y":0},{"c":"R","r":2,"m":"QGSJET II-04","x":5,"y":0},
{"c":"R","r":2,"m":"SIBYLL 2.3d","x":0.1,"y":5800},{"c":"R","r":2,"m":"SIBYLL 2.3d","x":0.17,"y":4300},{"c":"R","r":2,"m":"SIBYLL 2.3d","x":0.232,"y":3100},{"c":"R","r":2,"m":"SIBYLL 2.3d","x":0.284,"y":2379},{"c":"R","r":2,"m":"SIBYLL 2.3d","x":0.335,"y":1948},{"c":"R","r":2,"m":"SIBYLL 2.3d","x":0.403,"y":1410},{"c":"R","r":2,"m":"SIBYLL 2.3d","x":0.472,"y":1023},{"c":"R","r":2,"m":"SIBYLL 2.3d","x":0.54,"y":743},{"c":"R","r":2,"m":"SIBYLL 2.3d","x":0.626,"y":484},{"c":"R","r":2,"m":"SIBYLL 2.3d","x":0.728,"y":291},{"c":"R","r":2,"m":"SIBYLL 2.3d","x":0.831,"y":161},{"c":"R","r":2,"m":"SIBYLL 2.3d","x":0.933,"y":75},{"c":"R","r":2,"m":"SIBYLL 2.3d","x":1.036,"y":28},{"c":"R","r":2,"m":"SIBYLL 2.3d","x":1.173,"y":6},{"c":"R","r":2,"m":"SIBYLL 2.3d","x":1.3,"y":0},{"c":"R","r":2,"m":"SIBYLL 2.3d","x":5,"y":0},
{"c":"L","r":3,"m":"EPOS-LHC","x":0.096,"y":1135},{"c":"L","r":3,"m":"EPOS-LHC","x":0.185,"y":1039},{"c":"L","r":3,"m":"EPOS-LHC","x":0.267,"y":996},{"c":"L","r":3,"m":"EPOS-LHC","x":0.346,"y":1125},{"c":"L","r":3,"m":"EPOS-LHC","x":0.449,"y":1361},{"c":"L","r":3,"m":"EPOS-LHC","x":0.551,"y":1587},{"c":"L","r":3,"m":"EPOS-LHC","x":0.654,"y":1727},{"c":"L","r":3,"m":"EPOS-LHC","x":0.757,"y":1791},{"c":"L","r":3,"m":"EPOS-LHC","x":0.825,"y":1802},{"c":"L","r":3,"m":"EPOS-LHC","x":0.911,"y":1748},{"c":"L","r":3,"m":"EPOS-LHC","x":1.014,"y":1619},{"c":"L","r":3,"m":"EPOS-LHC","x":1.116,"y":1469},{"c":"L","r":3,"m":"EPOS-LHC","x":1.202,"y":1275},{"c":"L","r":3,"m":"EPOS-LHC","x":1.288,"y":1039},{"c":"L","r":3,"m":"EPOS-LHC","x":1.373,"y":802},{"c":"L","r":3,"m":"EPOS-LHC","x":1.459,"y":587},{"c":"L","r":3,"m":"EPOS-LHC","x":1.545,"y":394},{"c":"L","r":3,"m":"EPOS-LHC","x":1.63,"y":243},{"c":"L","r":3,"m":"EPOS-LHC","x":1.716,"y":135},{"c":"L","r":3,"m":"EPOS-LHC","x":1.801,"y":71},{"c":"L","r":3,"m":"EPOS-LHC","x":1.887,"y":34},{"c":"L","r":3,"m":"EPOS-LHC","x":1.973,"y":17},{"c":"L","r":3,"m":"EPOS-LHC","x":2.075,"y":6},{"c":"L","r":3,"m":"EPOS-LHC","x":2.2,"y":0},{"c":"L","r":3,"m":"EPOS-LHC","x":5,"y":0},
{"c":"L","r":3,"m":"QGSJET II-04","x":0.096,"y":1189},{"c":"L","r":3,"m":"QGSJET II-04","x":0.226,"y":1103},{"c":"L","r":3,"m":"QGSJET II-04","x":0.329,"y":1275},{"c":"L","r":3,"m":"QGSJET II-04","x":0.432,"y":1512},{"c":"L","r":3,"m":"QGSJET II-04","x":0.534,"y":1727},{"c":"L","r":3,"m":"QGSJET II-04","x":0.637,"y":1877},{"c":"L","r":3,"m":"QGSJET II-04","x":0.733,"y":1985},{"c":"L","r":3,"m":"QGSJET II-04","x":0.808,"y":2017},{"c":"L","r":3,"m":"QGSJET II-04","x":0.877,"y":1985},{"c":"L","r":3,"m":"QGSJET II-04","x":0.962,"y":1856},{"c":"L","r":3,"m":"QGSJET II-04","x":1.048,"y":1662},{"c":"L","r":3,"m":"QGSJET II-04","x":1.134,"y":1447},{"c":"L","r":3,"m":"QGSJET II-04","x":1.219,"y":1211},{"c":"L","r":3,"m":"QGSJET II-04","x":1.305,"y":974},{"c":"L","r":3,"m":"QGSJET II-04","x":1.39,"y":738},{"c":"L","r":3,"m":"QGSJET II-04","x":1.476,"y":523},{"c":"L","r":3,"m":"QGSJET II-04","x":1.562,"y":351},{"c":"L","r":3,"m":"QGSJET II-04","x":1.647,"y":200},{"c":"L","r":3,"m":"QGSJET II-04","x":1.733,"y":103},{"c":"L","r":3,"m":"QGSJET II-04","x":1.818,"y":49},{"c":"L","r":3,"m":"QGSJET II-04","x":1.904,"y":22},{"c":"L","r":3,"m":"QGSJET II-04","x":2.007,"y":6},{"c":"L","r":3,"m":"QGSJET II-04","x":2.12,"y":0},{"c":"L","r":3,"m":"QGSJET II-04","x":5,"y":0},
{"c":"L","r":3,"m":"SIBYLL 2.3d","x":0.096,"y":1609},{"c":"L","r":3,"m":"SIBYLL 2.3d","x":0.185,"y":1469},{"c":"L","r":3,"m":"SIBYLL 2.3d","x":0.267,"y":1383},{"c":"L","r":3,"m":"SIBYLL 2.3d","x":0.346,"y":1469},{"c":"L","r":3,"m":"SIBYLL 2.3d","x":0.449,"y":1598},{"c":"L","r":3,"m":"SIBYLL 2.3d","x":0.551,"y":1716},{"c":"L","r":3,"m":"SIBYLL 2.3d","x":0.654,"y":1813},{"c":"L","r":3,"m":"SIBYLL 2.3d","x":0.757,"y":1877},{"c":"L","r":3,"m":"SIBYLL 2.3d","x":0.825,"y":1867},{"c":"L","r":3,"m":"SIBYLL 2.3d","x":0.894,"y":1770},{"c":"L","r":3,"m":"SIBYLL 2.3d","x":0.979,"y":1576},{"c":"L","r":3,"m":"SIBYLL 2.3d","x":1.065,"y":1361},{"c":"L","r":3,"m":"SIBYLL 2.3d","x":1.151,"y":1125},{"c":"L","r":3,"m":"SIBYLL 2.3d","x":1.236,"y":888},{"c":"L","r":3,"m":"SIBYLL 2.3d","x":1.322,"y":652},{"c":"L","r":3,"m":"SIBYLL 2.3d","x":1.408,"y":437},{"c":"L","r":3,"m":"SIBYLL 2.3d","x":1.493,"y":265},{"c":"L","r":3,"m":"SIBYLL 2.3d","x":1.579,"y":157},{"c":"L","r":3,"m":"SIBYLL 2.3d","x":1.664,"y":82},{"c":"L","r":3,"m":"SIBYLL 2.3d","x":1.75,"y":34},{"c":"L","r":3,"m":"SIBYLL 2.3d","x":1.836,"y":13},{"c":"L","r":3,"m":"SIBYLL 2.3d","x":1.938,"y":2},{"c":"L","r":3,"m":"SIBYLL 2.3d","x":2.05,"y":0},{"c":"L","r":3,"m":"SIBYLL 2.3d","x":5,"y":0},
{"c":"R","r":3,"m":"EPOS-LHC","x":0.113,"y":1792},{"c":"R","r":3,"m":"EPOS-LHC","x":0.154,"y":1577},{"c":"R","r":3,"m":"EPOS-LHC","x":0.198,"y":1320},{"c":"R","r":3,"m":"EPOS-LHC","x":0.25,"y":1084},{"c":"R","r":3,"m":"EPOS-LHC","x":0.301,"y":912},{"c":"R","r":3,"m":"EPOS-LHC","x":0.369,"y":848},{"c":"R","r":3,"m":"EPOS-LHC","x":0.472,"y":815},{"c":"R","r":3,"m":"EPOS-LHC","x":0.591,"y":809},{"c":"R","r":3,"m":"EPOS-LHC","x":0.711,"y":815},{"c":"R","r":3,"m":"EPOS-LHC","x":0.797,"y":848},{"c":"R","r":3,"m":"EPOS-LHC","x":0.899,"y":895},{"c":"R","r":3,"m":"EPOS-LHC","x":1.002,"y":933},{"c":"R","r":3,"m":"EPOS-LHC","x":1.104,"y":966},{"c":"R","r":3,"m":"EPOS-LHC","x":1.207,"y":1019},{"c":"R","r":3,"m":"EPOS-LHC","x":1.309,"y":1084},{"c":"R","r":3,"m":"EPOS-LHC","x":1.395,"y":1101},{"c":"R","r":3,"m":"EPOS-LHC","x":1.48,"y":1084},{"c":"R","r":3,"m":"EPOS-LHC","x":1.583,"y":1030},{"c":"R","r":3,"m":"EPOS-LHC","x":1.685,"y":976},{"c":"R","r":3,"m":"EPOS-LHC","x":1.771,"y":891},{"c":"R","r":3,"m":"EPOS-LHC","x":1.856,"y":762},{"c":"R","r":3,"m":"EPOS-LHC","x":1.942,"y":633},{"c":"R","r":3,"m":"EPOS-LHC","x":2.027,"y":504},{"c":"R","r":3,"m":"EPOS-LHC","x":2.113,"y":376},{"c":"R","r":3,"m":"EPOS-LHC","x":2.198,"y":258},{"c":"R","r":3,"m":"EPOS-LHC","x":2.284,"y":161},{"c":"R","r":3,"m":"EPOS-LHC","x":2.369,"y":97},{"c":"R","r":3,"m":"EPOS-LHC","x":2.472,"y":49},{"c":"R","r":3,"m":"EPOS-LHC","x":2.574,"y":21},{"c":"R","r":3,"m":"EPOS-LHC","x":2.745,"y":6},{"c":"R","r":3,"m":"EPOS-LHC","x":2.916,"y":0},{"c":"R","r":3,"m":"EPOS-LHC","x":5,"y":0},
{"c":"R","r":3,"m":"QGSJET II-04","x":0.113,"y":1330},{"c":"R","r":3,"m":"QGSJET II-04","x":0.154,"y":1148},{"c":"R","r":3,"m":"QGSJET II-04","x":0.198,"y":998},{"c":"R","r":3,"m":"QGSJET II-04","x":0.25,"y":891},{"c":"R","r":3,"m":"QGSJET II-04","x":0.318,"y":805},{"c":"R","r":3,"m":"QGSJET II-04","x":0.403,"y":751},{"c":"R","r":3,"m":"QGSJET II-04","x":0.506,"y":719},{"c":"R","r":3,"m":"QGSJET II-04","x":0.626,"y":687},{"c":"R","r":3,"m":"QGSJET II-04","x":0.745,"y":670},{"c":"R","r":3,"m":"QGSJET II-04","x":0.848,"y":687},{"c":"R","r":3,"m":"QGSJET II-04","x":0.951,"y":751},{"c":"R","r":3,"m":"QGSJET II-04","x":1.053,"y":848},{"c":"R","r":3,"m":"QGSJET II-04","x":1.139,"y":955},{"c":"R","r":3,"m":"QGSJET II-04","x":1.224,"y":1084},{"c":"R","r":3,"m":"QGSJET II-04","x":1.309,"y":1212},{"c":"R","r":3,"m":"QGSJET II-04","x":1.395,"y":1330},{"c":"R","r":3,"m":"QGSJET II-04","x":1.48,"y":1433},{"c":"R","r":3,"m":"QGSJET II-04","x":1.549,"y":1530},{"c":"R","r":3,"m":"QGSJET II-04","x":1.6,"y":1545},{"c":"R","r":3,"m":"QGSJET II-04","x":1.651,"y":1491},{"c":"R","r":3,"m":"QGSJET II-04","x":1.72,"y":1341},{"c":"R","r":3,"m":"QGSJET II-04","x":1.788,"y":1191},{"c":"R","r":3,"m":"QGSJET II-04","x":1.856,"y":1019},{"c":"R","r":3,"m":"QGSJET II-04","x":1.925,"y":848},{"c":"R","r":3,"m":"QGSJET II-04","x":1.993,"y":676},{"c":"R","r":3,"m":"QGSJET II-04","x":2.062,"y":504},{"c":"R","r":3,"m":"QGSJET II-04","x":2.13,"y":354},{"c":"R","r":3,"m":"QGSJET II-04","x":2.198,"y":225},{"c":"R","r":3,"m":"QGSJET II-04","x":2.267,"y":118},{"c":"R","r":3,"m":"QGSJET II-04","x":2.335,"y":54},{"c":"R","r":3,"m":"QGSJET II-04","x":2.438,"y":21},{"c":"R","r":3,"m":"QGSJET II-04","x":2.574,"y":6},{"c":"R","r":3,"m":"QGSJET II-04","x":2.7,"y":0},{"c":"R","r":3,"m":"QGSJET II-04","x":5,"y":0},
{"c":"R","r":3,"m":"SIBYLL 2.3d","x":0.113,"y":1921},{"c":"R","r":3,"m":"SIBYLL 2.3d","x":0.164,"y":1706},{"c":"R","r":3,"m":"SIBYLL 2.3d","x":0.215,"y":1534},{"c":"R","r":3,"m":"SIBYLL 2.3d","x":0.267,"y":1406},{"c":"R","r":3,"m":"SIBYLL 2.3d","x":0.325,"y":1352},{"c":"R","r":3,"m":"SIBYLL 2.3d","x":0.403,"y":1406},{"c":"R","r":3,"m":"SIBYLL 2.3d","x":0.506,"y":1481},{"c":"R","r":3,"m":"SIBYLL 2.3d","x":0.591,"y":1474},{"c":"R","r":3,"m":"SIBYLL 2.3d","x":0.677,"y":1448},{"c":"R","r":3,"m":"SIBYLL 2.3d","x":0.762,"y":1341},{"c":"R","r":3,"m":"SIBYLL 2.3d","x":0.865,"y":1212},{"c":"R","r":3,"m":"SIBYLL 2.3d","x":0.968,"y":1084},{"c":"R","r":3,"m":"SIBYLL 2.3d","x":1.07,"y":966},{"c":"R","r":3,"m":"SIBYLL 2.3d","x":1.173,"y":858},{"c":"R","r":3,"m":"SIBYLL 2.3d","x":1.275,"y":751},{"c":"R","r":3,"m":"SIBYLL 2.3d","x":1.378,"y":633},{"c":"R","r":3,"m":"SIBYLL 2.3d","x":1.463,"y":504},{"c":"R","r":3,"m":"SIBYLL 2.3d","x":1.549,"y":418},{"c":"R","r":3,"m":"SIBYLL 2.3d","x":1.651,"y":333},{"c":"R","r":3,"m":"SIBYLL 2.3d","x":1.754,"y":247},{"c":"R","r":3,"m":"SIBYLL 2.3d","x":1.856,"y":161},{"c":"R","r":3,"m":"SIBYLL 2.3d","x":1.959,"y":86},{"c":"R","r":3,"m":"SIBYLL 2.3d","x":2.062,"y":43},{"c":"R","r":3,"m":"SIBYLL 2.3d","x":2.164,"y":21},{"c":"R","r":3,"m":"SIBYLL 2.3d","x":2.267,"y":6},{"c":"R","r":3,"m":"SIBYLL 2.3d","x":2.4,"y":0},{"c":"R","r":3,"m":"SIBYLL 2.3d","x":5,"y":0}
]
},
"columns":2,
"bounds":"flush",
"spacing":{"row":28,"column":31},
"resolve":{"scale":{"strokeDash":"independent","color":"independent"},"legend":{"color":"independent","strokeDash":"independent"}},
"concat":[
{"width":652,"height":534,
 "title":{"text":["E₀ = 10¹⁷·⁰ eV","√s = 14 TeV"]},
 "resolve":{"axis":{"x":"independent","y":"independent"}},
 "layer":[
 {"data":{"name":"eas"},"transform":[{"filter":"datum.c === 'L'"}],
  "mark":{"type":"line","strokeWidth":5,"clip":true},
  "encoding":{
   "x":{"field":"x","type":"quantitative","scale":{"domain":[0,5],"nice":false,"zero":false},"axis":{"orient":"bottom","values":[0,2,4],"labels":false,"title":null}},
   "y":{"field":"y","type":"quantitative","scale":{"domain":[0,3100],"nice":false},"axis":{"orient":"left","values":[0,1000,2000,3000],"title":"Number of events","labelOffset":{"condition":[{"test":"datum.value === 0","value":-3},{"test":"datum.value === 3000","value":3}],"value":0}}},
   "color":{"field":"m","type":"nominal","scale":{"domain":["EPOS-LHC","QGSJET II-04","SIBYLL 2.3d"],"range":["#1f77b4","#ff7f0e","#9467bd"]},"legend":null},
   "strokeDash":{"datum":"EAS","scale":{"domain":["[0, 2]","EAS"],"range":[[1,0],[4.5,10.5]]},"legend":{"title":"η range:","orient":"top-right","symbolStrokeColor":"black"}}}},
 {"data":{"name":"solid"},"transform":[{"filter":"datum.c === 'L' && datum.r === 1"}],
  "mark":{"type":"line","strokeWidth":5,"clip":true},
  "encoding":{
   "x":{"field":"x","type":"quantitative","scale":{"domain":[0,5],"nice":false,"zero":false},"axis":{"orient":"top","values":[0,2,4],"labels":false,"title":null}},
   "y":{"field":"y","type":"quantitative","scale":{"domain":[0,3100],"nice":false},"axis":{"orient":"right","values":[0,1000,2000,3000],"labels":false,"title":null}},
   "color":{"field":"m","type":"nominal","scale":{"domain":["EPOS-LHC","QGSJET II-04","SIBYLL 2.3d"],"range":["#1f77b4","#ff7f0e","#9467bd"]},"legend":null},
   "strokeDash":{"datum":"[0, 2]","scale":{"domain":["[0, 2]","EAS"],"range":[[1,0],[4.5,10.5]]},"legend":{"title":"η range:","orient":"top-right","symbolStrokeColor":"black"}}}}
 ]},
{"width":652,"height":534,
 "title":{"text":["E₀ = 10¹⁸·⁷ eV","√s = 97 TeV"]},
 "resolve":{"axis":{"x":"independent","y":"independent"}},
 "layer":[
 {"data":{"name":"eas"},"transform":[{"filter":"datum.c === 'R'"}],
  "mark":{"type":"line","strokeWidth":5,"clip":true},
  "encoding":{
   "x":{"field":"x","type":"quantitative","scale":{"domain":[0,5],"nice":false,"zero":false},"axis":{"orient":"bottom","values":[0,2,4],"labels":false,"title":null}},
   "y":{"field":"y","type":"quantitative","scale":{"domain":[0,3100],"nice":false},"axis":{"orient":"left","values":[0,1000,2000,3000],"labels":false,"title":null}},
   "color":{"field":"m","type":"nominal","scale":{"domain":["EPOS-LHC","QGSJET II-04","SIBYLL 2.3d"],"range":["#1f77b4","#ff7f0e","#9467bd"]},"legend":{"title":null,"orient":"top-right","labelFontSize":54}},
   "strokeDash":{"datum":"EAS","scale":{"domain":["[0, 2]","EAS"],"range":[[1,0],[4.5,10.5]]},"legend":null}}},
 {"data":{"name":"solid"},"transform":[{"filter":"datum.c === 'R' && datum.r === 1"}],
  "mark":{"type":"line","strokeWidth":5,"clip":true},
  "encoding":{
   "x":{"field":"x","type":"quantitative","scale":{"domain":[0,5],"nice":false,"zero":false},"axis":{"orient":"top","values":[0,2,4],"labels":false,"title":null}},
   "y":{"field":"y","type":"quantitative","scale":{"domain":[0,3100],"nice":false},"axis":{"orient":"right","values":[0,1000,2000,3000],"labels":false,"title":null}},
   "color":{"field":"m","type":"nominal","scale":{"domain":["EPOS-LHC","QGSJET II-04","SIBYLL 2.3d"],"range":["#1f77b4","#ff7f0e","#9467bd"]},"legend":{"title":null,"orient":"top-right","labelFontSize":54}},
   "strokeDash":{"datum":"[0, 2]","scale":{"domain":["[0, 2]","EAS"],"range":[[1,0],[4.5,10.5]]},"legend":null}}}
 ]},
{"width":652,"height":534,
 "resolve":{"axis":{"x":"independent","y":"independent"}},
 "layer":[
 {"data":{"name":"eas"},"transform":[{"filter":"datum.c === 'L'"}],
  "mark":{"type":"line","strokeWidth":5,"clip":true},
  "encoding":{
   "x":{"field":"x","type":"quantitative","scale":{"domain":[0,5],"nice":false,"zero":false},"axis":{"orient":"bottom","values":[0,2,4],"labels":false,"title":null}},
   "y":{"field":"y","type":"quantitative","scale":{"domain":[0,3100],"nice":false},"axis":{"orient":"left","values":[0,1000,2000,3000],"title":"Number of events","labelOffset":{"condition":[{"test":"datum.value === 0","value":-3},{"test":"datum.value === 3000","value":3}],"value":0}}},
   "color":{"field":"m","type":"nominal","scale":{"domain":["EPOS-LHC","QGSJET II-04","SIBYLL 2.3d"],"range":["#1f77b4","#ff7f0e","#9467bd"]},"legend":null},
   "strokeDash":{"datum":"EAS","scale":{"domain":["[3.1, 6.5]","EAS"],"range":[[1,0],[4.5,10.5]]},"legend":{"title":"η range:","orient":"top-right","symbolStrokeColor":"black"}}}},
 {"data":{"name":"solid"},"transform":[{"filter":"datum.c === 'L' && datum.r === 2"}],
  "mark":{"type":"line","strokeWidth":5,"clip":true},
  "encoding":{
   "x":{"field":"x","type":"quantitative","scale":{"domain":[0,5],"nice":false,"zero":false},"axis":{"orient":"top","values":[0,2,4],"labels":false,"title":null}},
   "y":{"field":"y","type":"quantitative","scale":{"domain":[0,3100],"nice":false},"axis":{"orient":"right","values":[0,1000,2000,3000],"labels":false,"title":null}},
   "color":{"field":"m","type":"nominal","scale":{"domain":["EPOS-LHC","QGSJET II-04","SIBYLL 2.3d"],"range":["#1f77b4","#ff7f0e","#9467bd"]},"legend":null},
   "strokeDash":{"datum":"[3.1, 6.5]","scale":{"domain":["[3.1, 6.5]","EAS"],"range":[[1,0],[4.5,10.5]]},"legend":{"title":"η range:","orient":"top-right","symbolStrokeColor":"black"}}}}
 ]},
{"width":652,"height":534,
 "resolve":{"axis":{"x":"independent","y":"independent"}},
 "layer":[
 {"data":{"name":"eas"},"transform":[{"filter":"datum.c === 'R'"}],
  "mark":{"type":"line","strokeWidth":5,"clip":true},
  "encoding":{
   "x":{"field":"x","type":"quantitative","scale":{"domain":[0,5],"nice":false,"zero":false},"axis":{"orient":"bottom","values":[0,2,4],"labels":false,"title":null}},
   "y":{"field":"y","type":"quantitative","scale":{"domain":[0,3100],"nice":false},"axis":{"orient":"left","values":[0,1000,2000,3000],"labels":false,"title":null}},
   "color":{"field":"m","type":"nominal","scale":{"domain":["EPOS-LHC","QGSJET II-04","SIBYLL 2.3d"],"range":["#1f77b4","#ff7f0e","#9467bd"]},"legend":null},
   "strokeDash":{"datum":"EAS","scale":{"domain":["[3.1, 6.5]","EAS"],"range":[[1,0],[4.5,10.5]]},"legend":null}}},
 {"data":{"name":"solid"},"transform":[{"filter":"datum.c === 'R' && datum.r === 2"}],
  "mark":{"type":"line","strokeWidth":5,"clip":true},
  "encoding":{
   "x":{"field":"x","type":"quantitative","scale":{"domain":[0,5],"nice":false,"zero":false},"axis":{"orient":"top","values":[0,2,4],"labels":false,"title":null}},
   "y":{"field":"y","type":"quantitative","scale":{"domain":[0,3100],"nice":false},"axis":{"orient":"right","values":[0,1000,2000,3000],"labels":false,"title":null}},
   "color":{"field":"m","type":"nominal","scale":{"domain":["EPOS-LHC","QGSJET II-04","SIBYLL 2.3d"],"range":["#1f77b4","#ff7f0e","#9467bd"]},"legend":null},
   "strokeDash":{"datum":"[3.1, 6.5]","scale":{"domain":["[3.1, 6.5]","EAS"],"range":[[1,0],[4.5,10.5]]},"legend":null}}}
 ]},
{"width":652,"height":534,
 "resolve":{"axis":{"x":"independent","y":"independent"}},
 "layer":[
 {"data":{"name":"eas"},"transform":[{"filter":"datum.c === 'L'"}],
  "mark":{"type":"line","strokeWidth":5,"clip":true},
  "encoding":{
   "x":{"field":"x","type":"quantitative","scale":{"domain":[0,5],"nice":false,"zero":false},"axis":{"orient":"bottom","values":[0,2,4],"title":"ζHad"}},
   "y":{"field":"y","type":"quantitative","scale":{"domain":[0,3100],"nice":false},"axis":{"orient":"left","values":[0,1000,2000,3000],"title":"Number of events","labelOffset":{"condition":[{"test":"datum.value === 0","value":-3},{"test":"datum.value === 3000","value":3}],"value":0}}},
   "color":{"field":"m","type":"nominal","scale":{"domain":["EPOS-LHC","QGSJET II-04","SIBYLL 2.3d"],"range":["#1f77b4","#ff7f0e","#9467bd"]},"legend":null},
   "strokeDash":{"datum":"EAS","scale":{"domain":["η > 8.3","EAS"],"range":[[1,0],[4.5,10.5]]},"legend":{"title":"η range:","orient":"top-right","symbolStrokeColor":"black"}}}},
 {"data":{"name":"solid"},"transform":[{"filter":"datum.c === 'L' && datum.r === 3"}],
  "mark":{"type":"line","strokeWidth":5,"clip":true},
  "encoding":{
   "x":{"field":"x","type":"quantitative","scale":{"domain":[0,5],"nice":false,"zero":false},"axis":{"orient":"top","values":[0,2,4],"labels":false,"title":null}},
   "y":{"field":"y","type":"quantitative","scale":{"domain":[0,3100],"nice":false},"axis":{"orient":"right","values":[0,1000,2000,3000],"labels":false,"title":null}},
   "color":{"field":"m","type":"nominal","scale":{"domain":["EPOS-LHC","QGSJET II-04","SIBYLL 2.3d"],"range":["#1f77b4","#ff7f0e","#9467bd"]},"legend":null},
   "strokeDash":{"datum":"η > 8.3","scale":{"domain":["η > 8.3","EAS"],"range":[[1,0],[4.5,10.5]]},"legend":{"title":"η range:","orient":"top-right","symbolStrokeColor":"black"}}}}
 ]},
{"width":652,"height":534,
 "resolve":{"axis":{"x":"independent","y":"independent"}},
 "layer":[
 {"data":{"name":"eas"},"transform":[{"filter":"datum.c === 'R'"}],
  "mark":{"type":"line","strokeWidth":5,"clip":true},
  "encoding":{
   "x":{"field":"x","type":"quantitative","scale":{"domain":[0,5],"nice":false,"zero":false},"axis":{"orient":"bottom","values":[0,2,4],"title":"ζHad"}},
   "y":{"field":"y","type":"quantitative","scale":{"domain":[0,3100],"nice":false},"axis":{"orient":"left","values":[0,1000,2000,3000],"labels":false,"title":null}},
   "color":{"field":"m","type":"nominal","scale":{"domain":["EPOS-LHC","QGSJET II-04","SIBYLL 2.3d"],"range":["#1f77b4","#ff7f0e","#9467bd"]},"legend":null},
   "strokeDash":{"datum":"EAS","scale":{"domain":["η > 8.3","EAS"],"range":[[1,0],[4.5,10.5]]},"legend":null}}},
 {"data":{"name":"solid"},"transform":[{"filter":"datum.c === 'R' && datum.r === 3"}],
  "mark":{"type":"line","strokeWidth":5,"clip":true},
  "encoding":{
   "x":{"field":"x","type":"quantitative","scale":{"domain":[0,5],"nice":false,"zero":false},"axis":{"orient":"top","values":[0,2,4],"labels":false,"title":null}},
   "y":{"field":"y","type":"quantitative","scale":{"domain":[0,3100],"nice":false},"axis":{"orient":"right","values":[0,1000,2000,3000],"labels":false,"title":null}},
   "color":{"field":"m","type":"nominal","scale":{"domain":["EPOS-LHC","QGSJET II-04","SIBYLL 2.3d"],"range":["#1f77b4","#ff7f0e","#9467bd"]},"legend":null},
   "strokeDash":{"datum":"η > 8.3","scale":{"domain":["η > 8.3","EAS"],"range":[[1,0],[4.5,10.5]]},"legend":null}}}
 ]}
]
}
